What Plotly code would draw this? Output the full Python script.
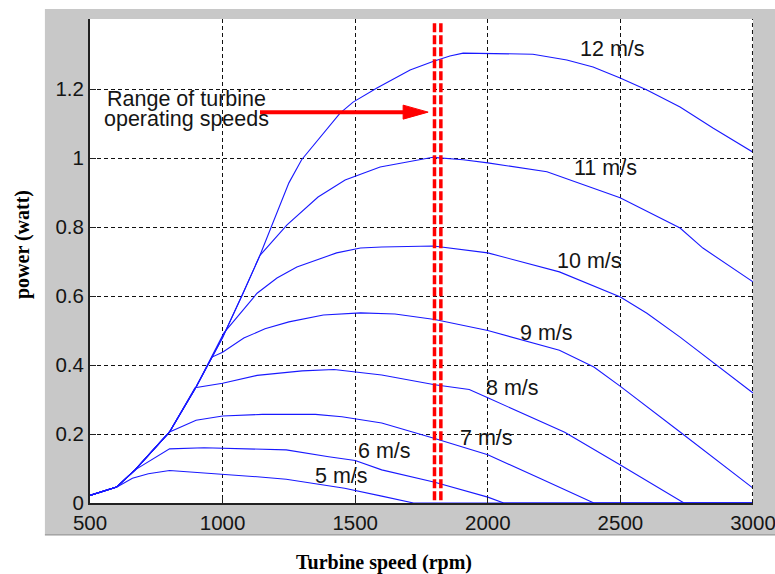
import plotly.graph_objects as go

# Turbine power curves, one per wind speed (rpm -> watt)
rpm_5 = [500, 600, 660, 720, 800, 900, 1000, 1130, 1240, 1360, 1460, 1600, 1720, 3000]
pow_5 = [0.022, 0.046, 0.072, 0.085, 0.094, 0.089, 0.084, 0.076, 0.069, 0.055, 0.043, 0.020, 0.0, 0.0]

rpm_6 = [500, 600, 670, 740, 800, 930, 1240, 1400, 1500, 1600, 1800, 2000, 2060, 3000]
pow_6 = [0.022, 0.046, 0.096, 0.130, 0.157, 0.160, 0.154, 0.134, 0.123, 0.096, 0.060, 0.017, 0.0, 0.0]

rpm_7 = [500, 600, 670, 800, 900, 1000, 1150, 1350, 1450, 1600, 1800, 2000, 2200, 2400, 3000]
pow_7 = [0.022, 0.046, 0.096, 0.206, 0.240, 0.252, 0.257, 0.257, 0.250, 0.232, 0.187, 0.140, 0.070, 0.0, 0.0]

rpm_8 = [500, 600, 670, 800, 896, 934, 1000, 1130, 1300, 1420, 1600, 1800, 1930, 2000, 2160, 2290, 2500, 2740, 3000]
pow_8 = [0.022, 0.046, 0.096, 0.206, 0.334, 0.339, 0.347, 0.370, 0.383, 0.387, 0.371, 0.343, 0.329, 0.305, 0.250, 0.205, 0.110, 0.0, 0.0]

rpm_9 = [500, 600, 670, 800, 900, 960, 1000, 1080, 1160, 1250, 1380, 1520, 1650, 1800, 2000, 2270, 2400, 2500, 2725, 3000]
pow_9 = [0.022, 0.046, 0.096, 0.206, 0.336, 0.423, 0.437, 0.478, 0.505, 0.525, 0.545, 0.551, 0.548, 0.532, 0.500, 0.443, 0.394, 0.338, 0.206, 0.043]

rpm_10 = [500, 600, 670, 800, 900, 1005, 1130, 1205, 1280, 1430, 1520, 1600, 1795, 2000, 2270, 2500, 2600, 2725, 3000]
pow_10 = [0.022, 0.046, 0.096, 0.206, 0.336, 0.493, 0.608, 0.652, 0.684, 0.725, 0.739, 0.742, 0.745, 0.725, 0.670, 0.597, 0.550, 0.481, 0.319]

rpm_11 = [500, 600, 670, 800, 900, 1000, 1077, 1141, 1243, 1360, 1462, 1594, 1793, 1907, 2000, 2223, 2499, 2725, 2811, 3000]
pow_11 = [0.022, 0.046, 0.096, 0.206, 0.336, 0.480, 0.608, 0.718, 0.806, 0.887, 0.936, 0.974, 1.002, 0.995, 0.986, 0.960, 0.885, 0.797, 0.739, 0.641]

rpm_12 = [500, 600, 670, 800, 900, 1000, 1077, 1141, 1186, 1250, 1298, 1360, 1443, 1492, 1582, 1707, 1793, 1857, 1907,
          2170, 2298, 2397, 2499, 2600, 2725, 2849, 3000]
pow_12 = [0.022, 0.046, 0.096, 0.206, 0.336, 0.480, 0.608, 0.718, 0.805, 0.928, 0.995, 1.052, 1.130, 1.162, 1.203,
          1.255, 1.280, 1.296, 1.304, 1.301, 1.284, 1.264, 1.232, 1.197, 1.148, 1.087, 1.017]

speed_labels = ["5 m/s", "6 m/s", "7 m/s", "8 m/s", "9 m/s", "10 m/s", "11 m/s", "12 m/s"]
rpm_series = [rpm_5, rpm_6, rpm_7, rpm_8, rpm_9, rpm_10, rpm_11, rpm_12]
power_series = [pow_5, pow_6, pow_7, pow_8, pow_9, pow_10, pow_11, pow_12]

# where each speed label sits (rpm, watt)
label_rpm = [1448, 1612, 1995, 2095, 2221, 2382, 2442, 2470]
label_pow = [0.078, 0.151, 0.188, 0.333, 0.493, 0.701, 0.971, 1.316]

# operating-speed band and its pointer
band_rpm = [1799, 1823]
band_top = 1.391
arrow_tail_rpm = 1141
arrow_tip_rpm = 1775
arrow_pow = 1.133

x_ticks = [500, 1000, 1500, 2000, 2500, 3000]
y_ticks = [0, 0.2, 0.4, 0.6, 0.8, 1.0, 1.2]
y_ticktext = ["0", "0.2", "0.4", "0.6", "0.8", "1", "1.2"]

SANS = "Liberation Sans, Arial, sans-serif"
SERIF = "Liberation Serif, Times New Roman, serif"
CURVE = "rgb(25,25,255)"
TEXT = "#151515"
GRID = "#111"
GRID_DASH = "4px,3px"

fig = go.Figure()
for name, xs, ys in zip(speed_labels, rpm_series, power_series):
    fig.add_trace(go.Scatter(x=xs, y=ys, mode="lines", name=name,
                             line=dict(color=CURVE, width=1.1), showlegend=False))

for name, lx, ly in zip(speed_labels, label_rpm, label_pow):
    fig.add_annotation(x=lx, y=ly, text=name, showarrow=False,
                       font=dict(family=SANS, size=21.5, color=TEXT))

# grey figure panel behind the axes, white axes area on top of it
fig.add_shape(type="rect", xref="paper", yref="paper", x0=-0.068, x1=1.06, y0=-0.066, y1=1.0207,
              fillcolor="#c8c8c8", line=dict(width=0), layer="below")
fig.add_shape(type="line", xref="paper", yref="paper", x0=-0.068, x1=1.06, y0=-0.066, y1=-0.066,
              line=dict(color="#8a8a8a", width=1), layer="below")
fig.add_shape(type="rect", xref="x domain", yref="y domain", x0=0, x1=1, y0=0, y1=1,
              fillcolor="white", line=dict(width=0), layer="below")
# grid line on the right edge of the axes (plotly skips edge grid lines)
fig.add_shape(type="line", xref="x domain", yref="y domain", x0=0.9992, x1=0.9992, y0=0, y1=1,
              line=dict(color=GRID, width=1, dash=GRID_DASH), layer="above")

for bx in band_rpm:
    fig.add_shape(type="line", xref="x", yref="y", x0=bx, x1=bx, y0=band_top, y1=0,
                  line=dict(color="red", width=3.5, dash="9px,3px"), layer="above")

# arrow shaft and head
fig.add_shape(type="line", xref="x", yref="y", x0=arrow_tail_rpm, x1=arrow_tip_rpm - 75,
              y0=arrow_pow, y1=arrow_pow, line=dict(color="red", width=4), layer="above")
fig.add_shape(type="path", xref="x", yref="y", xsizemode="pixel", ysizemode="pixel",
              xanchor=arrow_tip_rpm, yanchor=arrow_pow, path="M0,0 L-25,7 L-25,-7 Z",
              fillcolor="red", line=dict(color="red", width=1), layer="above")

fig.add_annotation(x=864, y=1.172, text="Range of turbine", showarrow=False,
                   font=dict(family=SANS, size=21.5, color=TEXT))
fig.add_annotation(x=864, y=1.112, text="operating speeds", showarrow=False,
                   font=dict(family=SANS, size=21.5, color=TEXT))

# axis titles
fig.add_annotation(xref="paper", yref="paper", x=0.4427, y=-0.122, xanchor="center", yanchor="middle",
                   text="Turbine speed (rpm)", showarrow=False,
                   font=dict(family=SERIF, size=20, color="black", weight="bold"))
fig.add_annotation(xref="paper", yref="paper", x=-0.1026, y=0.535, xanchor="center", yanchor="middle",
                   text="power (watt)", textangle=-90, showarrow=False,
                   font=dict(family=SERIF, size=20, color="black", weight="bold"))

axis_common = dict(showgrid=True, gridcolor=GRID, gridwidth=1, griddash=GRID_DASH,
                   showline=True, linecolor="#222", linewidth=2, zeroline=False,
                   ticks="inside", ticklen=6, tickcolor="#222", ticklabeloverflow="allow",
                   automargin=False, tickfont=dict(family=SANS, size=20.5, color=TEXT))

fig.update_xaxes(range=[500, 3000], tickvals=x_ticks, **axis_common)
fig.update_yaxes(range=[0, 1.403], tickvals=y_ticks, ticktext=y_ticktext, **axis_common)

fig.update_layout(width=775, height=574, margin=dict(l=90, r=22, t=19, b=71),
                  paper_bgcolor="white", plot_bgcolor="white", showlegend=False)

fig.write_html("out.html")
